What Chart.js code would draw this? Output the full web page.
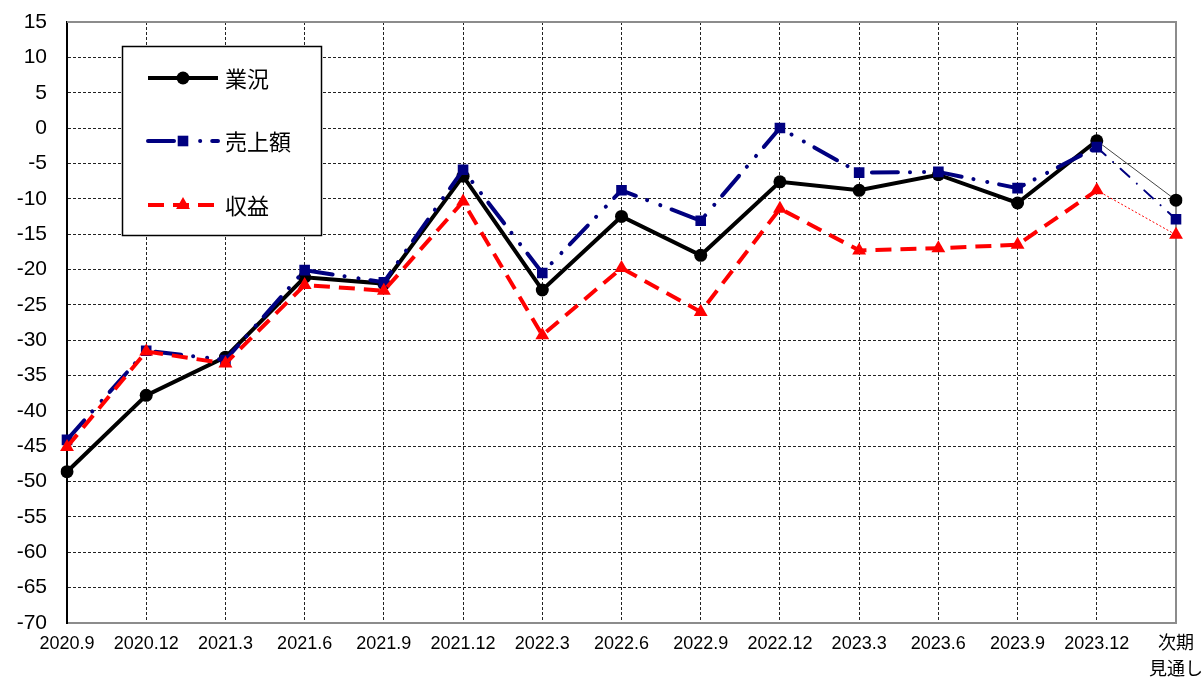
<!DOCTYPE html>
<html><head><meta charset="utf-8">
<script src="https://cdn.jsdelivr.net/npm/chart.js@4/dist/chart.umd.min.js"></script>
<style>html,body{margin:0;padding:0;background:#fff;overflow:hidden}#wrap{width:1203px;height:677px;position:relative}</style>
</head><body><div id="wrap"><canvas id="c" width="1203" height="677"></canvas></div>
<script>
const categories = ['2020.9','2020.12','2021.3','2021.6','2021.9','2021.12','2022.3','2022.6','2022.9','2022.12','2023.3','2023.6','2023.9','2023.12',['次期','見通し']];
const gyokyo = [-48.6,-37.8,-32.4,-21.1,-22.0,-6.8,-22.9,-12.5,-18.0,-7.6,-8.8,-6.6,-10.6,-1.8,-10.2];
const uriage = [-44.1,-31.5,-32.8,-20.1,-21.8,-5.9,-20.5,-8.8,-13.1,0.0,-6.3,-6.2,-8.5,-2.7,-12.9];
const shueki = [-45.1,-31.6,-33.3,-22.2,-23.0,-10.4,-29.3,-19.8,-26.0,-11.4,-17.3,-17.0,-16.5,-8.8,-15.1];
const seriesNames = ['業況','売上額','収益'];
const yMin = -70, yMax = 15, yStep = 5;

const LAST = categories.length - 1;
const FONT = "'Liberation Sans', Arial, 'Noto Sans CJK JP', sans-serif";
const BLUE_DASH = [26, 12, 0.1, 14, 0.1, 12];
const RED_DASH = [16, 9];

const frame = {
  id: 'frame',
  beforeDatasetsDraw(chart) {
    const {ctx, chartArea: a} = chart;
    ctx.save();
    ctx.strokeStyle = '#8c8c8c';
    ctx.lineWidth = 2;
    ctx.beginPath();
    ctx.moveTo(a.left, a.top); ctx.lineTo(a.right, a.top); ctx.lineTo(a.right, a.bottom);
    ctx.stroke();
    ctx.restore();
  }
};

const boxLegend = {
  id: 'boxLegend',
  afterDraw(chart) {
    const ctx = chart.ctx;
    ctx.save();
    ctx.fillStyle = '#fff';
    ctx.fillRect(122, 46, 199, 189);
    ctx.strokeStyle = '#000';
    ctx.lineWidth = 1.5;
    ctx.strokeRect(122.5, 46.5, 199, 189);
    const rows = [78, 141, 205];
    const ds = chart.data.datasets;
    rows.forEach((y, i) => {
      const d = ds[i];
      ctx.save();
      ctx.strokeStyle = d.borderColor;
      ctx.lineWidth = d.borderWidth;
      ctx.lineCap = d.borderCapStyle || 'butt';
      ctx.setLineDash(d.borderDash || []);
      ctx.beginPath();
      ctx.moveTo(148, y); ctx.lineTo(218, y);
      ctx.stroke();
      ctx.restore();
      ctx.fillStyle = d.pointBackgroundColor;
      const cx = 183;
      ctx.beginPath();
      if (d.pointStyle === 'circle') { ctx.arc(cx, y, d.pointRadius, 0, Math.PI * 2); }
      else if (d.pointStyle === 'rect') { const s = d.pointRadius * Math.SQRT1_2; ctx.rect(cx - s, y - s, 2 * s, 2 * s); }
      else { const r = d.pointRadius; ctx.moveTo(cx, y - r); ctx.lineTo(cx + r * 0.866, y + r * 0.5); ctx.lineTo(cx - r * 0.866, y + r * 0.5); ctx.closePath(); }
      ctx.fill();
      ctx.fillStyle = '#000';
      ctx.font = "22px 'Noto Sans CJK JP', sans-serif";
      ctx.textBaseline = 'middle';
      ctx.textAlign = 'left';
      ctx.fillText(d.label, 225, y + 1);
    });
    ctx.restore();
  }
};

new Chart(document.getElementById('c'), {
  type: 'line',
  data: {
    labels: categories,
    datasets: [
      {
        label: seriesNames[0], data: gyokyo, order: 3,
        borderColor: '#000', borderWidth: 4, borderCapStyle: 'butt',
        pointStyle: 'circle', pointRadius: 6.5, pointBackgroundColor: '#000', pointBorderColor: '#000', pointBorderWidth: 0,
        tension: 0, fill: false,
        segment: {
          borderWidth: c => c.p1DataIndex === LAST ? 1 : undefined,
          borderColor: c => c.p1DataIndex === LAST ? '#444' : undefined
        }
      },
      {
        label: seriesNames[1], data: uriage, order: 2,
        borderColor: '#000080', borderWidth: 4, borderCapStyle: 'round', borderDash: BLUE_DASH,
        pointStyle: 'rect', pointRadius: 7.5, pointBackgroundColor: '#000080', pointBorderColor: '#000080', pointBorderWidth: 0,
        tension: 0, fill: false,
        segment: {
          borderWidth: c => c.p1DataIndex === LAST ? 2 : undefined,
          borderDash: c => c.p1DataIndex === LAST ? [12, 10, 0.1, 10] : undefined
        }
      },
      {
        label: seriesNames[2], data: shueki, order: 1,
        borderColor: '#ff0000', borderWidth: 4, borderCapStyle: 'butt', borderDash: RED_DASH,
        pointStyle: 'triangle', pointRadius: 8, pointBackgroundColor: '#ff0000', pointBorderColor: '#ff0000', pointBorderWidth: 0,
        tension: 0, fill: false,
        segment: {
          borderWidth: c => c.p1DataIndex === LAST ? 1 : undefined,
          borderDash: c => c.p1DataIndex === LAST ? [2, 2] : undefined
        }
      }
    ]
  },
  options: {
    responsive: false, animation: false, devicePixelRatio: 1,
    layout: { padding: { top: 22, right: 27, left: 0, bottom: 0 } },
    plugins: { legend: { display: false }, tooltip: { enabled: false } },
    scales: {
      x: {
        type: 'category', offset: false,
        afterFit: s => { s.height = 54; s.paddingLeft = 0; s.paddingRight = 0; s.paddingTop = 0; s.paddingBottom = 0; },
        grid: { display: true, color: '#222', lineWidth: 1, drawTicks: false, offset: false },
        border: { display: true, color: '#8c8c8c', width: 2, dash: [3, 2] },
        ticks: { autoSkip: false, maxRotation: 0, minRotation: 0, padding: 8, color: '#000', font: { family: FONT, size: 18, lineHeight: 1.45 } }
      },
      y: {
        min: yMin, max: yMax,
        afterFit: s => { s.width = 67; s.paddingLeft = 0; s.paddingRight = 0; s.paddingTop = 0; s.paddingBottom = 0; },
        grid: { display: true, color: '#222', lineWidth: 1, drawTicks: false },
        border: { display: true, color: '#000', width: 2, dash: [3, 2] },
        ticks: { stepSize: yStep, padding: 20, color: '#000', font: { family: FONT, size: 21 } }
      }
    }
  },
  plugins: [frame, boxLegend]
});
</script>
</body></html>
